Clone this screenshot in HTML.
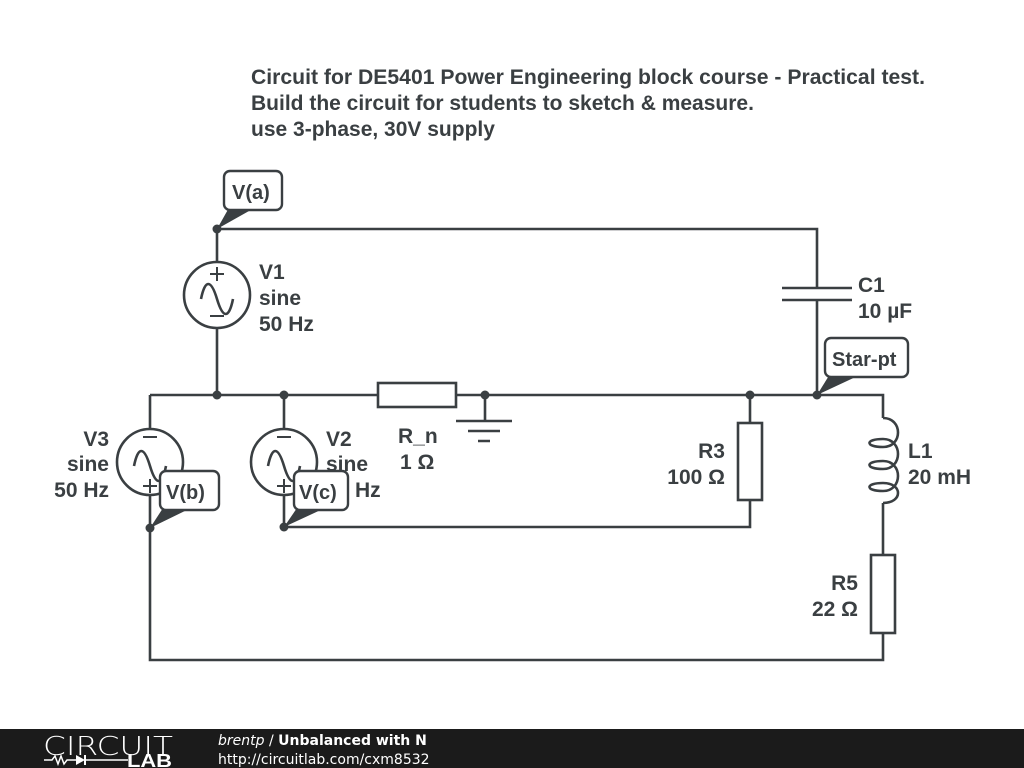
<!DOCTYPE html>
<html><head><meta charset="utf-8"><style>
body{margin:0;width:1024px;height:768px;background:#fff;overflow:hidden;font-family:"Liberation Sans",sans-serif}
svg{position:absolute;left:0;top:0}
</style></head><body>
<svg width="1024" height="768" viewBox="0 0 1024 768">
<g fill="none" stroke="#3a3f42" stroke-width="2.6">
<path d="M217 229H817V288M782 288H852M782 300H852M817 300V395"/>
<path d="M217 229V262M217 328V395"/>
<circle cx="217" cy="295" r="33"/>
<path d="M201 299c4-20 10-20 16 0s12 20 16 0"/>
<path d="M150 395H378M456 395H883V418"/>
<rect x="378" y="383" width="78" height="24"/>
<path d="M485 395V421M456 421H512M468 431H500M478 441H490"/>
<path d="M750 395V423M750 500V527H284"/>
<rect x="738" y="423" width="24" height="77"/>
<path d="M150 395V429M150 495V660H883V633"/>
<circle cx="150" cy="462" r="33"/>
<path d="M134 466c4-20 10-20 16 0s12 20 16 0"/>
<path d="M284 395V429M284 495V527"/>
<circle cx="284" cy="462" r="33"/>
<path d="M268 466c4-20 10-20 16 0s12 20 16 0"/>
<rect x="871" y="555" width="24" height="78"/>
<path d="M883 503V555"/>
<path d="M883 418C903 418 903 447 883 447C865 447 865 439 883 439C903 439 903 469 883 469C865 469 865 461 883 461C903 461 903 491 883 491C865 491 865 483 883 483C903 483 903 503 883 503"/>
</g>
<g stroke="#3a3f42" stroke-width="2" fill="none">
<path d="M217 267v14M210 274h14M210 316h14"/>
<path d="M143 437h14M143 486h14M150 479v14"/>
<path d="M277 437h14M277 486h14M284 479v14"/>
</g>
<g fill="#3a3f42">
<circle cx="217" cy="229" r="4.5"/><circle cx="217" cy="395" r="4.5"/><circle cx="284" cy="395" r="4.5"/>
<circle cx="485" cy="395" r="4.5"/><circle cx="750" cy="395" r="4.5"/><circle cx="817" cy="395" r="4.5"/>
<circle cx="150" cy="528" r="4.5"/><circle cx="284" cy="527" r="4.5"/>
<path d="M217 229L230 206L258 206Z"/>
<path d="M150 528L163 508L191 508Z"/>
<path d="M284 527L297 508L325 508Z"/>
<path d="M817 395L830 374L862 374Z"/>
</g>
<g fill="#fff" stroke="#3a3f42" stroke-width="2.4">
<rect x="224" y="171" width="58" height="39" rx="6"/>
<rect x="160" y="471" width="59" height="39" rx="6"/>
<rect x="294" y="471" width="54" height="39" rx="6"/>
<rect x="825" y="338" width="83" height="39" rx="6"/>
</g>
<g font-family="Liberation Sans,sans-serif" font-weight="bold" font-size="21" fill="#3a3f42">
<text x="251" y="84" textLength="674" lengthAdjust="spacingAndGlyphs">Circuit for DE5401 Power Engineering block course - Practical test.</text>
<text x="251" y="110">Build the circuit for students to sketch &amp; measure.</text>
<text x="251" y="136">use 3-phase, 30V supply</text>
<text x="232" y="199" font-size="20">V(a)</text>
<text x="166" y="499" font-size="20">V(b)</text>
<text x="299" y="499" font-size="20">V(c)</text>
<text x="832" y="366" font-size="20">Star-pt</text>
<text x="259" y="279">V1</text><text x="259" y="305">sine</text><text x="259" y="331">50 Hz</text>
<text x="858" y="292">C1</text><text x="858" y="318">10 µF</text>
<text x="109" y="446" text-anchor="end">V3</text><text x="109" y="471" text-anchor="end">sine</text><text x="109" y="497" text-anchor="end">50 Hz</text>
<text x="326" y="446">V2</text><text x="326" y="471">sine</text><text x="355" y="497">Hz</text>
<text x="398" y="443">R_n</text><text x="400" y="469">1 Ω</text>
<text x="725" y="458" text-anchor="end">R3</text><text x="725" y="484" text-anchor="end">100 Ω</text>
<text x="908" y="458">L1</text><text x="908" y="484">20 mH</text>
<text x="858" y="590" text-anchor="end">R5</text><text x="858" y="616" text-anchor="end">22 Ω</text>
</g>
<rect x="0" y="729" width="1024" height="39" fill="#1b1b1b"/>
<text x="43" y="755" font-family="DejaVu Sans,sans-serif" font-weight="200" font-size="26" fill="#fff" textLength="130" lengthAdjust="spacingAndGlyphs">CIRCUIT</text>
<path d="M44 760h8l3-4 3 8 3-8 3 8 3-4h10M84 760h44" stroke="#fff" stroke-width="1.5" fill="none"/>
<path d="M76 755v10l9-5z" fill="#fff"/><path d="M85 755v10" stroke="#fff" stroke-width="2"/>
<text x="127" y="767" font-family="Liberation Sans,sans-serif" font-weight="bold" font-size="18" fill="#fff" textLength="45" lengthAdjust="spacingAndGlyphs">LAB</text>
<text x="218" y="745" font-family="DejaVu Sans,sans-serif" font-size="14" fill="#fff"><tspan font-style="italic">brentp</tspan> / <tspan font-weight="bold">Unbalanced with N</tspan></text>
<text x="218" y="764" font-family="DejaVu Sans,sans-serif" font-size="14" fill="#fff">http://circuitlab.com/cxm8532</text>
</svg>
</body></html>
